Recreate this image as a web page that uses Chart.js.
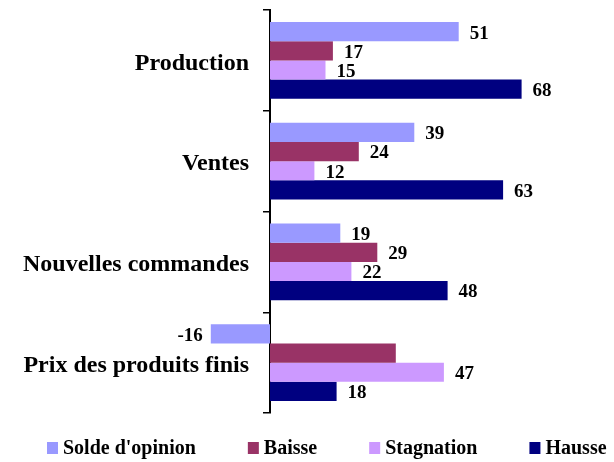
<!DOCTYPE html>
<html>
<head>
<meta charset="utf-8">
<script src="https://cdn.jsdelivr.net/npm/chart.js@4"></script>
<style>
  html, body { margin: 0; background: #fff; }
  #wrap { width: 614px; height: 462px; }
</style>
</head>
<body>
<div id="wrap"><canvas id="c"></canvas></div>
<script>
const categories = ['Production', 'Ventes', 'Nouvelles commandes', 'Prix des produits finis'];
const solde = [51, 39, 19, -16];
const baisse = [17, 24, 29, 34];
const stagnation = [15, 12, 22, 47];
const hausse = [68, 63, 48, 18];
const seriesNames = ["Solde d'opinion", 'Baisse', 'Stagnation', 'Hausse'];
const seriesColors = ['#9999FF', '#993366', '#CC99FF', '#000080'];
// the source prints no figure for Baisse on the last row
const unlabelled = ['1-3'];

const serif = 'Liberation Serif, Times New Roman, serif';

const valueLabels = {
    id: 'valueLabels',
    afterDatasetsDraw(chart) {
        const ctx = chart.ctx;
        ctx.save();
        ctx.fillStyle = '#000';
        ctx.font = 'bold 19px ' + serif;
        ctx.textBaseline = 'middle';
        chart.data.datasets.forEach((ds, di) => {
            chart.getDatasetMeta(di).data.forEach((bar, i) => {
                if (unlabelled.includes(di + '-' + i)) return;
                const v = ds.data[i];
                if (v >= 0) {
                    ctx.textAlign = 'left';
                    ctx.fillText(v, bar.x + 11, bar.y + 2);
                } else {
                    ctx.textAlign = 'right';
                    ctx.fillText(v, bar.x - 8, bar.y + 2);
                }
            });
        });
        ctx.restore();
    }
};

// category names sit left of the zero line, away from it
const categoryLabels = {
    id: 'categoryLabels',
    afterDraw(chart) {
        const ctx = chart.ctx;
        const y = chart.scales.y;
        const x0 = chart.scales.x.getPixelForValue(0);
        ctx.save();
        ctx.fillStyle = '#000';
        ctx.font = 'bold 24px ' + serif;
        ctx.textBaseline = 'middle';
        ctx.textAlign = 'right';
        categories.forEach((c, i) => {
            ctx.fillText(c, x0 - 21, y.getPixelForValue(i) + 3);
        });
        ctx.restore();
    }
};

// legend drawn by hand, the built-in one cannot space items this wide
const bottomLegend = {
    id: 'bottomLegend',
    afterDraw(chart) {
        const ctx = chart.ctx;
        ctx.save();
        ctx.font = 'bold 20px ' + serif;
        ctx.textBaseline = 'middle';
        ctx.textAlign = 'left';
        let x = 47;
        const y = 448;
        chart.data.datasets.forEach(ds => {
            ctx.fillStyle = ds.backgroundColor;
            ctx.fillRect(x, y - 6, 11, 12);
            ctx.fillStyle = '#000';
            ctx.fillText(ds.label, x + 16, y + 1);
            x += 16 + ctx.measureText(ds.label).width + 52;
        });
        ctx.restore();
    }
};

const allSeries = [solde, baisse, stagnation, hausse];

new Chart(document.getElementById('c'), {
    type: 'bar',
    data: {
        labels: categories,
        datasets: allSeries.map((d, i) => ({
            label: seriesNames[i],
            data: d,
            backgroundColor: seriesColors[i],
            borderWidth: 0,
            barPercentage: 1,
            categoryPercentage: 0.76
        }))
    },
    options: {
        indexAxis: 'y',
        responsive: true,
        maintainAspectRatio: false,
        animation: false,
        layout: { padding: { top: 10, left: 11, right: 11, bottom: 49 } },
        plugins: {
            legend: { display: false },
            tooltip: { enabled: false }
        },
        scales: {
            x: {
                display: false,
                min: -70,
                max: 90
            },
            y: {
                position: { x: 0 },
                grid: { drawOnChartArea: false, tickLength: 6, color: '#000', lineWidth: 1.5 },
                border: { display: true, color: '#000', width: 2 },
                ticks: { display: false }
            }
        }
    },
    plugins: [valueLabels, categoryLabels, bottomLegend]
});
</script>
</body>
</html>
